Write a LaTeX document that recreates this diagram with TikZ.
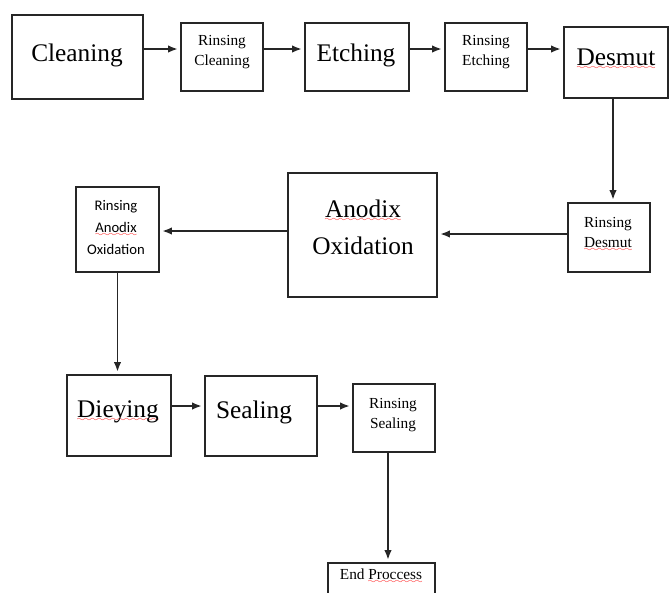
\documentclass[tikz,border=0pt]{standalone}
\usepackage{fontspec}
\setmainfont{Liberation Serif}
\newfontfamily\calibri{Carlito}
\usetikzlibrary{arrows.meta}
\font\sixly=lasy6
\newsavebox\wordbox
\newcommand\redwave[1]{\sbox\wordbox{#1}\rlap{\textcolor{red}{\lower3pt\hbox to\wd\wordbox{\xleaders\hbox{\sixly\char58}\hfil}}}\usebox\wordbox}
\tikzset{every picture/.style={line width=0.75pt}}
\tikzset{
  stepbox/.style 2 args={draw=black!85, line width=1.2pt, minimum width=#1*0.75pt, minimum height=#2*0.75pt, inner sep=0pt},
  bigtext/.style={font=\fontsize{19}{27.75}\selectfont, anchor=base, inner sep=0pt, align=center},
  smalltext/.style={font=\fontsize{11.5}{15}\selectfont, anchor=base, inner sep=0pt, align=center},
  sanstext/.style={font=\calibri\fontsize{11}{16.5}\selectfont, anchor=base, inner sep=0pt, align=center},
  flow/.style={-{Latex[length=7pt,width=5.5pt]}, line width=1pt, black!85, shorten >=2pt},
}

\begin{document}
\begin{tikzpicture}[x=0.75pt,y=0.75pt,yscale=-1,xscale=1]
\useasboundingbox (0,0) rectangle (669,593);
\clip (0,0) rectangle (669,593);

%Shape: Rectangle
\node[stepbox={131}{84}] (cleaning) at (77.5,57) {};
%Shape: Rectangle
\node[stepbox={82}{68}] (rcleaning) at (222,57) {};
%Shape: Rectangle
\node[stepbox={104}{68}] (etching) at (357,57) {};
%Shape: Rectangle
\node[stepbox={82}{68}] (retching) at (486,57) {};
%Shape: Rectangle
\node[stepbox={104}{71}] (desmut) at (616,62.5) {};
%Shape: Rectangle
\node[stepbox={82}{69}] (rdesmut) at (609,237.5) {};
%Shape: Rectangle
\node[stepbox={149}{124}] (anodix) at (362.5,235) {};
%Shape: Rectangle
\node[stepbox={83}{85}] (ranodix) at (117.5,229.5) {};
%Shape: Rectangle
\node[stepbox={104}{81}] (dieying) at (119,415.5) {};
%Shape: Rectangle
\node[stepbox={112}{80}] (sealing) at (261,416) {};
%Shape: Rectangle
\node[stepbox={82}{68}] (rsealing) at (394,418) {};
%Shape: Rectangle
\node[stepbox={107}{60}] (endp) at (381.5,593) {};

% Text Node
\node[bigtext] (cleaningtxt) at (77,61) {Cleaning};
% Text Node
\node[smalltext] (rcleaningtxt) at (222,65) {Rinsing\\Cleaning};
% Text Node
\node[bigtext] (etchingtxt) at (356,61) {Etching};
% Text Node
\node[smalltext] (retchingtxt) at (486,65) {Rinsing\\Etching};
% Text Node
\node[bigtext] (desmuttxt) at (616,65) {\redwave{Desmut}};
% Text Node
\node[smalltext] (rdesmuttxt) at (608,247) {Rinsing\\\redwave{Desmut}};
% Text Node
\node[bigtext] (anodixtxt) at (363,254) {\redwave{Anodix}\\Oxidation};
% Text Node
\node[sanstext] (ranodixtxt) at (116,254) {Rinsing\\\redwave{Anodix}\\Oxidation};
% Text Node
\node[bigtext] (dieyingtxt) at (118,417) {\redwave{Dieying}};
% Text Node
\node[bigtext] (sealingtxt) at (254,418) {Sealing};
% Text Node
\node[smalltext] (rsealingtxt) at (393,428) {Rinsing\\Sealing};
% Text Node
\node[smalltext] (endtxt) at (381,579) {End \redwave{Proccess}};

% rows and columns of the arrows
\coordinate (row1) at (0,49);
\coordinate (row2a) at (0,234);
\coordinate (row2b) at (0,231);
\coordinate (row3) at (0,406);
\coordinate (col1) at (613,0);
\coordinate (col3) at (388,0);

%Straight Lines
\draw[flow] (cleaning.east |- row1) -- (rcleaning.west |- row1);
\draw[flow] (rcleaning.east |- row1) -- (etching.west |- row1);
\draw[flow] (etching.east |- row1) -- (retching.west |- row1);
\draw[flow] (retching.east |- row1) -- (desmut.west |- row1);
\draw[flow] (desmut.south -| col1) -- (rdesmut.north -| col1);
\draw[flow] (rdesmut.west |- row2a) -- (anodix.east |- row2a);
\draw[flow] (anodix.west |- row2b) -- (ranodix.east |- row2b);
\draw[flow] (ranodix.south) -- (ranodix.south |- dieying.north);
\draw[flow] (dieying.east |- row3) -- (sealing.west |- row3);
\draw[flow] (sealing.east |- row3) -- (rsealing.west |- row3);
\draw[flow] (rsealing.south -| col3) -- (endp.north -| col3);

\end{tikzpicture}
\end{document}
